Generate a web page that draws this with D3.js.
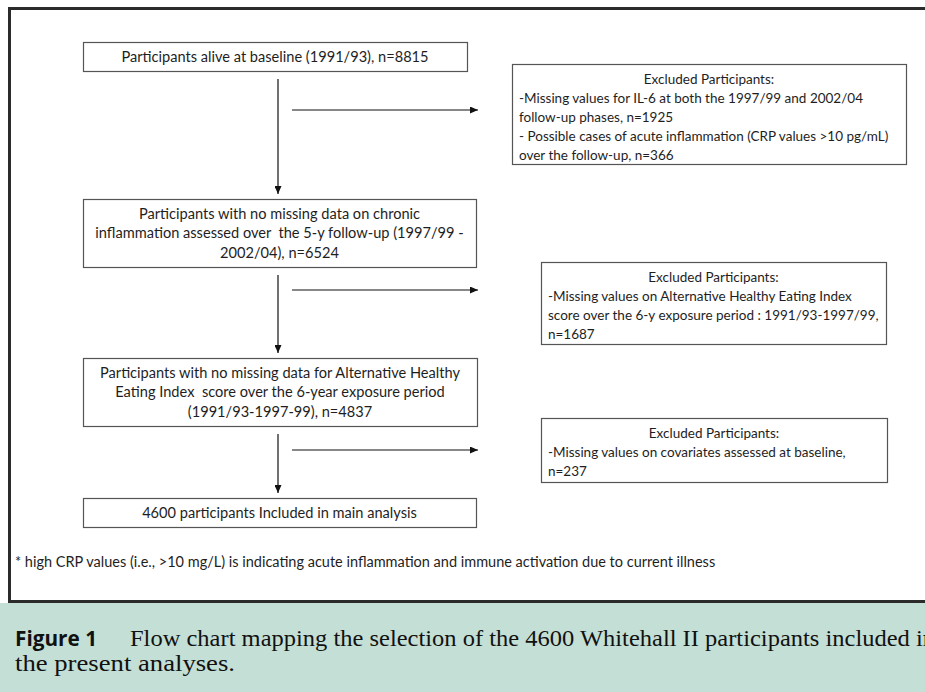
<!DOCTYPE html>
<html>
<head>
<meta charset="utf-8">
<script src="https://cdn.jsdelivr.net/npm/d3@7"></script>
<style>
  body { margin: 0; background: #fff; overflow: hidden; }
  text { white-space: pre; }
</style>
</head>
<body>
<div id="container"></div>
<script>
const width = 925
const height = 692

// flow steps (main column)
const stepLines = [
  ['Participants alive at baseline (1991/93), n=8815'],
  ['Participants with no missing data on chronic',
   'inflammation assessed over  the 5-y follow-up (1997/99 -',
   '2002/04), n=6524'],
  ['Participants with no missing data for Alternative Healthy',
   'Eating Index  score over the 6-year exposure period',
   '(1991/93-1997-99), n=4837'],
  ['4600 participants Included in main analysis']
]
const stepCounts = [8815, 6524, 4837, 4600]

// exclusions between steps
const exclHeader = 'Excluded Participants:'
const exclLines = [
  ['-Missing values for IL-6 at both the 1997/99 and 2002/04',
   'follow-up phases, n=1925',
   '- Possible cases of acute inflammation (CRP values >10 pg/mL)',
   'over the follow-up, n=366'],
  ['-Missing values on Alternative Healthy Eating Index',
   'score over the 6-y exposure period : 1991/93-1997/99,',
   'n=1687'],
  ['-Missing values on covariates assessed at baseline,',
   'n=237']
]
const exclCounts = [1925 + 366, 1687, 237]

const footnote = '* high CRP values (i.e., >10 mg/L) is indicating acute inflammation and immune activation due to current illness'
const captionLabel = 'Figure 1'
const captionText = ['Flow chart mapping the selection of the 4600 Whitehall II participants included in',
  'the present analyses.']

// layout
const stepBox = [
  { x0: 83, x1: 467, y0: 42, y1: 71 },
  { x0: 83, x1: 476, y0: 199, y1: 267 },
  { x0: 83, x1: 477, y0: 358, y1: 426 },
  { x0: 83, x1: 476, y0: 498, y1: 527 }
]
const exclBox = [
  { x0: 512, x1: 906, y0: 64, y1: 164 },
  { x0: 541, x1: 886, y0: 262, y1: 344 },
  { x0: 541, x1: 887, y0: 418, y1: 482 }
]
const lineH = 19.5
const arrowX = 278
const sideArrowY = [110, 290, 450]

const svg = d3.select('#container')
  .append('svg')
  .attr('width', width)
  .attr('height', height)

svg.append('defs').append('marker')
  .attr('id', 'head')
  .attr('viewBox', '0 0 10 10')
  .attr('refX', 10)
  .attr('refY', 5)
  .attr('markerWidth', 8)
  .attr('markerHeight', 7)
  .attr('markerUnits', 'userSpaceOnUse')
  .attr('orient', 'auto')
  .attr('preserveAspectRatio', 'none')
  .append('path')
  .attr('d', 'M0,0L10,5L0,10Z')
  .attr('fill', '#111')

// caption band
svg.append('rect')
  .attr('x', 0).attr('y', 603)
  .attr('width', width).attr('height', height - 603)
  .attr('fill', '#c4dfd5')

// outer frame
svg.append('rect')
  .attr('x', 9.5).attr('y', 8.5)
  .attr('width', 940).attr('height', 593)
  .attr('fill', '#fff')
  .attr('stroke', '#2b2b2b')
  .attr('stroke-width', 3)

const font = 'Lato, "Open Sans", sans-serif'
const txt = '#1e1e1e'

// main step boxes
const steps = svg.selectAll('g.step')
  .data(stepLines.map((lines, i) => ({ lines, n: stepCounts[i], b: stepBox[i] })))
  .enter()
  .append('g')
  .attr('class', 'step')

steps.append('rect')
  .attr('x', d => d.b.x0 + 0.5)
  .attr('y', d => d.b.y0 + 0.5)
  .attr('width', d => d.b.x1 - d.b.x0)
  .attr('height', d => d.b.y1 - d.b.y0)
  .attr('fill', '#fff')
  .attr('stroke', '#555')
  .attr('stroke-width', 1.2)

steps.each(function (d) {
  const g = d3.select(this)
  const cy = (d.b.y0 + d.b.y1) / 2
  const top = cy - (d.lines.length - 1) * lineH / 2
  g.selectAll('text')
    .data(d.lines)
    .enter()
    .append('text')
    .attr('x', (d.b.x0 + d.b.x1) / 2)
    .attr('y', (l, j) => top + j * lineH + 5)
    .attr('text-anchor', 'middle')
    .attr('font-family', font)
    .attr('font-size', 14.6)
    .attr('fill', txt)
    .text(l => l)
})

// exclusion boxes
const excl = svg.selectAll('g.excl')
  .data(exclLines.map((lines, i) => ({ lines, n: exclCounts[i], b: exclBox[i] })))
  .enter()
  .append('g')
  .attr('class', 'excl')

excl.append('rect')
  .attr('x', d => d.b.x0 + 0.5)
  .attr('y', d => d.b.y0 + 0.5)
  .attr('width', d => d.b.x1 - d.b.x0)
  .attr('height', d => d.b.y1 - d.b.y0)
  .attr('fill', '#fff')
  .attr('stroke', '#555')
  .attr('stroke-width', 1.2)

excl.each(function (d) {
  const g = d3.select(this)
  const all = [exclHeader].concat(d.lines)
  g.selectAll('text')
    .data(all)
    .enter()
    .append('text')
    .attr('x', (l, j) => j === 0 ? (d.b.x0 + d.b.x1) / 2 : d.b.x0 + 7)
    .attr('y', (l, j) => d.b.y0 + 15 + j * 19 + 5)
    .attr('text-anchor', (l, j) => j === 0 ? 'middle' : 'start')
    .attr('font-family', font)
    .attr('font-size', 13.5)
    .attr('fill', txt)
    .text(l => l)
})

// down arrows between steps
svg.selectAll('line.down')
  .data(d3.pairs(stepBox))
  .enter()
  .append('line')
  .attr('class', 'down')
  .attr('x1', arrowX).attr('x2', arrowX)
  .attr('y1', d => d[0].y1 + 8)
  .attr('y2', d => d[1].y0 - 5)
  .attr('stroke', '#111')
  .attr('stroke-width', 1.2)
  .attr('marker-end', 'url(#head)')

// side arrows to exclusions
svg.selectAll('line.side')
  .data(sideArrowY)
  .enter()
  .append('line')
  .attr('class', 'side')
  .attr('x1', 292).attr('x2', 478)
  .attr('y1', d => d).attr('y2', d => d)
  .attr('stroke', '#111')
  .attr('stroke-width', 1.2)
  .attr('marker-end', 'url(#head)')

// footnote
svg.append('text')
  .attr('x', 15).attr('y', 567)
  .attr('font-family', font)
  .attr('font-size', 14.5)
  .attr('fill', txt)
  .text(footnote)

// caption (fit to the measured widths of the journal type)
const cap = svg.append('g')
cap.append('text')
  .attr('x', 15).attr('y', 646)
  .attr('font-family', '"Open Sans", sans-serif')
  .attr('font-weight', 'bold')
  .attr('font-size', 21)
  .attr('textLength', 82)
  .attr('lengthAdjust', 'spacingAndGlyphs')
  .attr('fill', '#111')
  .text(captionLabel)

cap.append('text')
  .attr('x', 130).attr('y', 646)
  .attr('font-family', '"Liberation Serif", serif')
  .attr('font-size', 23.5)
  .attr('textLength', 805)
  .attr('lengthAdjust', 'spacingAndGlyphs')
  .attr('fill', '#111')
  .text(captionText[0])

cap.append('text')
  .attr('x', 15).attr('y', 671)
  .attr('font-family', '"Liberation Serif", serif')
  .attr('font-size', 23.5)
  .attr('textLength', 220)
  .attr('lengthAdjust', 'spacingAndGlyphs')
  .attr('fill', '#111')
  .text(captionText[1])
</script>
</body>
</html>
